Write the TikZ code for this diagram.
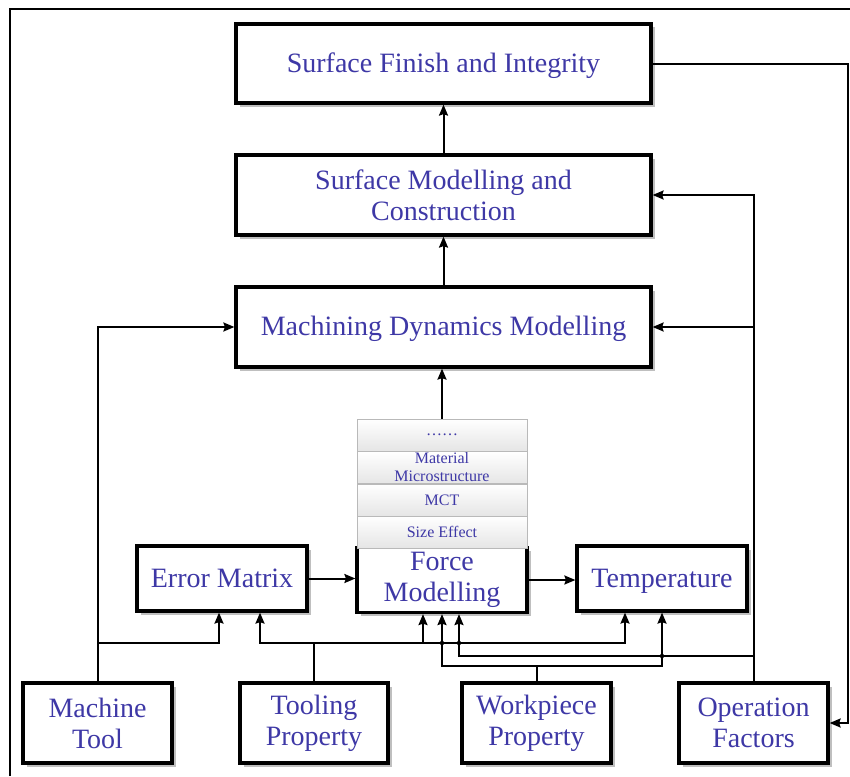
\documentclass[tikz,border=0pt]{standalone}
\usepackage{fontspec}
\setmainfont{Liberation Serif}
\usetikzlibrary{arrows.meta,shadows}
\definecolor{txtblue}{RGB}{62,56,166}
\begin{document}
\begin{tikzpicture}[x=1pt,y=-1pt,
  box/.style={draw=black,line width=3.2pt,fill=white,align=center,text=txtblue,
    font=\fontsize{28}{31}\selectfont,inner sep=0pt,
    drop shadow={shadow xshift=3.5pt,shadow yshift=-3.5pt,fill=black!25,opacity=1}},
  oneline/.style={text height=19pt,text depth=2pt},
  strip/.style={draw=gray!55,line width=0.8pt,top color=white,bottom color=gray!20,
    minimum width=170pt,minimum height=32pt,align=center,text=txtblue,
    font=\fontsize{16}{18}\selectfont,inner sep=0pt},
  conn/.style={line width=2pt,line join=miter},
  arr/.style={conn,-{Stealth[length=11pt,width=9pt,inset=1.5pt]}},
  junction/.style={circle,fill=black,inner sep=0pt,minimum size=4.5pt}]
\useasboundingbox (0,0) rectangle (850,776);

% outer frame
\draw[line width=2pt] (10,776) -- (10,9) -- (850,9);

% upper chain
\node[box,oneline,minimum width=415pt,minimum height=79pt] (sfi) at (443.5,63.5) {Surface Finish and Integrity};
\node[box,minimum width=415pt,minimum height=80pt] (smc) at (443.5,195) {Surface Modelling and\\Construction};
\node[box,oneline,minimum width=415pt,minimum height=80pt] (mdm) at (443.5,327) {Machining Dynamics Modelling};

% middle row
\node[box,oneline,minimum width=170pt,minimum height=65pt] (err) at (222,578.5) {Error Matrix};
\node[box,minimum width=170pt,minimum height=65pt] (force) at (442,580) {Force\\Modelling};
\node[box,oneline,minimum width=170pt,minimum height=65pt] (temp) at (662,578.5) {Temperature};

% stack of force-model effects
\node[strip] (s1) at (442,532) {Size Effect};
\node[strip] (s2) at (442,500) {MCT};
\node[strip] (s3) at (442,467.5) {Material\\Microstructure};
\node[strip] (s4) at (442,435) {……};

% inputs
\node[box,minimum width=149pt,minimum height=80pt] (mt) at (97.5,723) {Machine\\Tool};
\node[box,minimum width=148pt,minimum height=80pt] (tp) at (314,723) {Tooling\\Property};
\node[box,minimum width=149pt,minimum height=80pt] (wp) at (536.5,723) {Workpiece\\Property};
\node[box,minimum width=149pt,minimum height=80pt] (of) at (753.5,723) {Operation\\Factors};

% routing points
\coordinate (rr) at (848,0);
\coordinate (mj) at (97.5,643);
\coordinate (ea) at (219,643);
\coordinate (tL) at (260,643);
\coordinate (tF) at (423,643);
\coordinate (tR) at (625,643);
\coordinate (wL) at (442,666);
\coordinate (wR) at (662,666);
\coordinate (oL) at (459,656);

% upward flow
\draw[arr] (smc.north) -- (sfi.south);
\draw[arr] (mdm.north) -- (smc.south);
\draw[arr] (s4.north) -- (s4.north |- mdm.south);
\draw[arr] (err.east) -- (err.east -| force.west);
\draw[arr] (force.east) -- (force.east -| temp.west);

% feedback from surface finish to operation factors
\draw[arr] (sfi.east) -- (sfi.east -| rr) |- (of.east);

% machine tool
\draw[arr] (mt.north) |- (mdm.west);
\draw[arr] (mj) -| (ea |- err.south);

% tooling property
\draw[arr] (tp.north) -- (tp.north |- tL) -- (tL) -- (tL |- err.south);
\draw[arr] (tL) -- (tR) -- (tR |- temp.south);
\draw[arr] (tF) -- (tF |- force.south);

% workpiece property
\draw[arr] (wp.north) |- (wL) -- (wL |- force.south);
\draw[arr] (wp.north |- wL) -- (wR) -- (wR |- temp.south);

% operation factors
\draw[arr] (of.north) |- (smc.east);
\draw[arr] (of.north |- mdm.east) -- (mdm.east);
\draw[arr] (of.north |- oL) -- (oL) -- (oL |- force.south);

% line crossings
\node[junction] (c1) at (wL |- tL) {};
\node[junction] (c2) at (oL |- tL) {};
\node[junction] (c3) at (wR |- oL) {};
\end{tikzpicture}
\end{document}
